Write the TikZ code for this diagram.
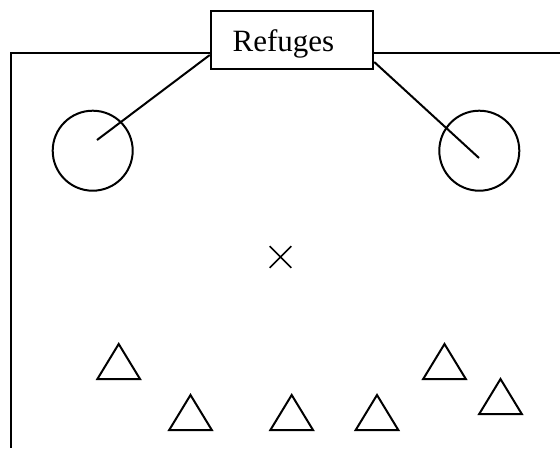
\documentclass[tikz,border=0pt]{standalone}
\usepackage{fontspec}
\setmainfont{Liberation Serif}
\usetikzlibrary{shapes.misc}
\begin{document}
\begin{tikzpicture}[x=1pt,y=-1pt,line width=2pt,
  labelbox/.style={draw,rectangle,minimum width=162.5pt,minimum height=58pt,inner sep=0pt},
  labeltext/.style={anchor=base,inner sep=0pt,font=\fontsize{31}{36}\selectfont},
  refuge/.style={draw,circle,minimum size=80pt,inner sep=0pt},
  cross/.style={draw,cross out,minimum size=20pt,inner sep=0pt,line width=1.6pt},
  tri/.pic={\draw[line join=miter] (0,0) -- (-21.3,35) -- (21.3,35) -- cycle;}]
\useasboundingbox (0,0) rectangle (560,448);
\node[labelbox] (box) at (292,40) {};
\node[labeltext] (t) at (283.5,51) {Refuges};
\node[refuge] (c1) at (92.7,150.7) {};
\node[refuge] (c2) at (479.3,150.7) {};
\coordinate (l1) at (box.west |- 0,55);
\coordinate (e1) at (97,140);
\coordinate (l2) at (box.east |- 0,62);
\coordinate (e2) at (479,158);
\draw (l1) -- (e1);
\draw (l2) -- (e2);
\draw (box.west |- 0,53) -- (11,53) -- (11,448);
\draw (box.east |- 0,53) -- (560,53);
\node[cross] (x) at (280.5,257) {};
\pic at (118.7,344) {tri};
\pic at (190.5,395) {tri};
\pic at (291.7,395) {tri};
\pic at (377,395) {tri};
\pic at (444.5,344) {tri};
\pic at (500.5,379) {tri};
\end{tikzpicture}
\end{document}
